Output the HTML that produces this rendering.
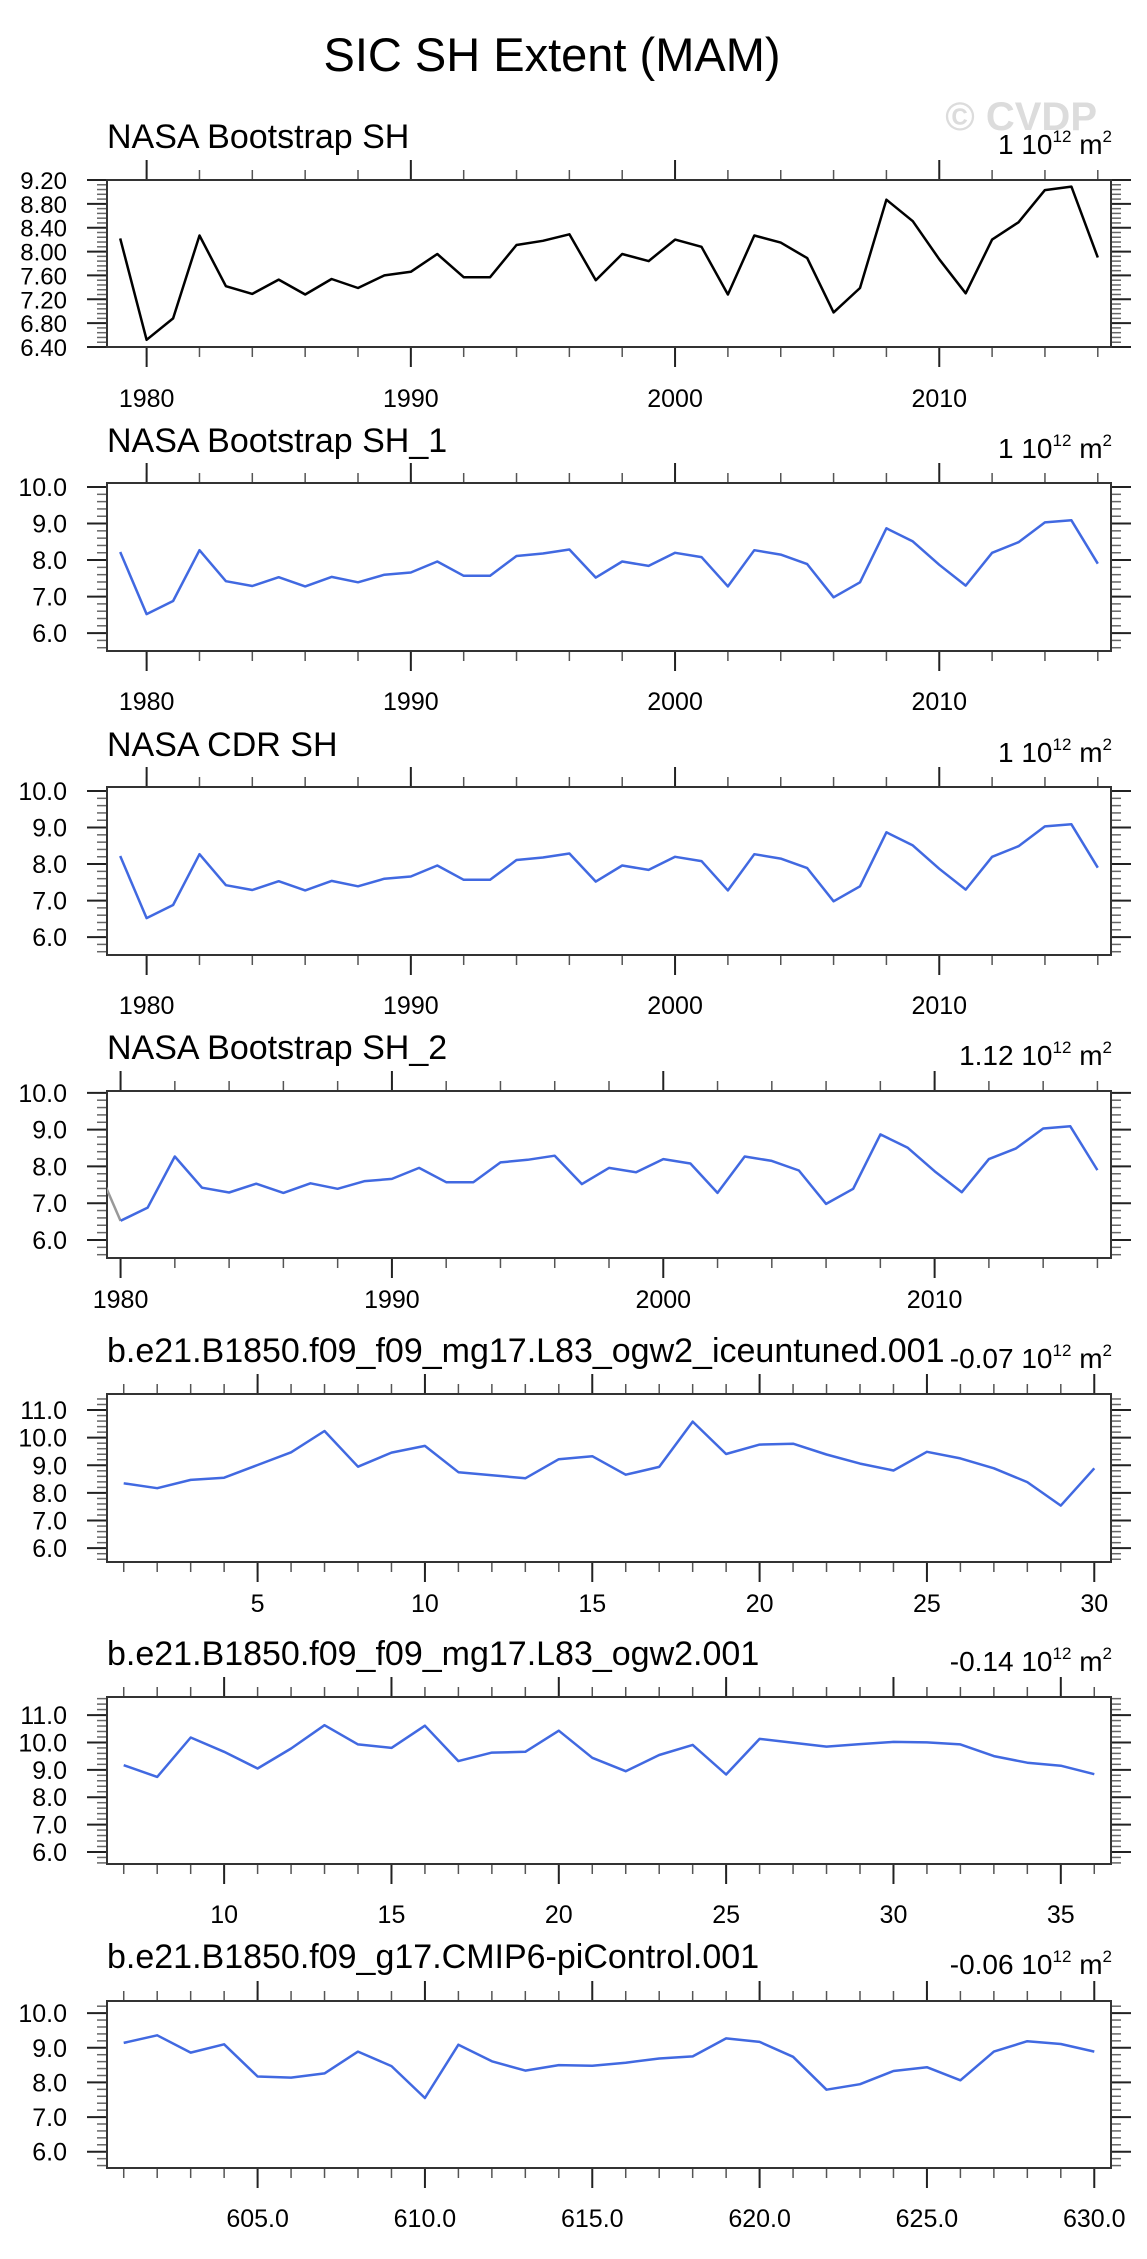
<!DOCTYPE html>
<html><head><meta charset="utf-8"><style>
html,body{margin:0;padding:0;background:#fff;}
svg{display:block;font-family:"Liberation Sans",Arial,sans-serif;}
</style></head><body>
<svg id="fig" width="1147" height="2259" viewBox="0 0 1147 2259" xmlns="http://www.w3.org/2000/svg">
<text x="552" y="71" font-size="47" text-anchor="middle">SIC SH Extent (MAM)</text>
<text x="1097" y="130" font-size="40" font-weight="bold" fill="#dcdcdc" text-anchor="end">© CVDP</text>
</svg>
<script>
const obsYears = [1979,1980,1981,1982,1983,1984,1985,1986,1987,1988,1989,1990,1991,1992,1993,1994,1995,1996,1997,1998,1999,2000,2001,2002,2003,2004,2005,2006,2007,2008,2009,2010,2011,2012,2013,2014,2015,2016];
const obsValues = [8.22,6.52,6.88,8.27,7.42,7.29,7.53,7.28,7.54,7.39,7.60,7.66,7.96,7.57,7.57,8.11,8.18,8.29,7.52,7.96,7.84,8.20,8.08,7.28,8.27,8.15,7.89,6.98,7.39,8.87,8.51,7.87,7.30,8.20,8.49,9.03,9.09,7.90];
const iceYears = [1,2,3,4,5,6,7,8,9,10,11,12,13,14,15,16,17,18,19,20,21,22,23,24,25,26,27,28,29,30];
const iceValues = [8.35,8.17,8.47,8.55,9.01,9.47,10.24,8.95,9.46,9.70,8.75,8.64,8.53,9.22,9.33,8.66,8.94,10.58,9.41,9.75,9.78,9.39,9.06,8.81,9.49,9.25,8.89,8.39,7.54,8.89];
const ogwYears = [7,8,9,10,11,12,13,14,15,16,17,18,19,20,21,22,23,24,25,26,27,28,29,30,31,32,33,34,35,36];
const ogwValues = [9.17,8.74,10.18,9.66,9.05,9.78,10.63,9.93,9.80,10.61,9.32,9.63,9.66,10.43,9.44,8.95,9.54,9.91,8.83,10.13,9.99,9.85,9.94,10.02,10.00,9.93,9.50,9.26,9.15,8.84];
const piYears = [601,602,603,604,605,606,607,608,609,610,611,612,613,614,615,616,617,618,619,620,621,622,623,624,625,626,627,628,629,630];
const piValues = [9.14,9.36,8.86,9.10,8.17,8.14,8.26,8.89,8.47,7.55,9.09,8.61,8.34,8.50,8.48,8.57,8.69,8.75,9.27,9.17,8.74,7.79,7.95,8.33,8.44,8.06,8.89,9.19,9.11,8.89];
const panelTitles = ["NASA Bootstrap SH","NASA Bootstrap SH_1","NASA CDR SH","NASA Bootstrap SH_2","b.e21.B1850.f09_f09_mg17.L83_ogw2_iceuntuned.001","b.e21.B1850.f09_f09_mg17.L83_ogw2.001","b.e21.B1850.f09_g17.CMIP6-piControl.001"];
const trendLabels = ["1","1","1","1.12","-0.07","-0.14","-0.06"];

const NS="http://www.w3.org/2000/svg";
const svg=document.getElementById('fig');
function mk(tag,attrs,parent){const e=document.createElementNS(NS,tag);for(const k in attrs)e.setAttribute(k,attrs[k]);(parent||svg).appendChild(e);return e;}

const L=107,R=1111;
const panels=[
 {top:180,bot:347,tb:148,xb:407,xmin:1978.5,xmax:2016.5,ymin:6.4,ymax:9.2,ymaj:[6.4,6.8,7.2,7.6,8.0,8.4,8.8,9.2],ydec:2,ystep:0.08,xmaj:[1980,1990,2000,2010],xminor:2,xmin0:1980,xfmt:0,xs:obsYears,ys:obsValues,col:"#000",yfs:24},
 {top:483,bot:651,tb:452,xb:710,xmin:1978.5,xmax:2016.5,ymin:5.51,ymax:10.11,ymaj:[6,7,8,9,10],ydec:1,ystep:0.2,xmaj:[1980,1990,2000,2010],xminor:2,xmin0:1980,xfmt:0,xs:obsYears,ys:obsValues,col:"#4169e1",yfs:25},
 {top:787,bot:955,tb:756,xb:1014,xmin:1978.5,xmax:2016.5,ymin:5.51,ymax:10.11,ymaj:[6,7,8,9,10],ydec:1,ystep:0.2,xmaj:[1980,1990,2000,2010],xminor:2,xmin0:1980,xfmt:0,xs:obsYears,ys:obsValues,col:"#4169e1",yfs:25},
 {top:1091,bot:1258,tb:1059,xb:1308,xmin:1979.5,xmax:2016.5,ymin:5.51,ymax:10.05,ymaj:[6,7,8,9,10],ydec:1,ystep:0.2,xmaj:[1980,1990,2000,2010],xminor:2,xmin0:1980,xfmt:0,xs:obsYears,ys:obsValues,col:"#4169e1",grey:true,yfs:25},
 {top:1394,bot:1562,tb:1362,xb:1612,xmin:0.5,xmax:30.5,ymin:5.5,ymax:11.58,ymaj:[6,7,8,9,10,11],ydec:1,ystep:0.2,xmaj:[5,10,15,20,25,30],xminor:1,xmin0:1,xfmt:0,xs:iceYears,ys:iceValues,col:"#4169e1",yfs:25},
 {top:1697,bot:1864,tb:1665,xb:1923,xmin:6.5,xmax:36.5,ymin:5.56,ymax:11.66,ymaj:[6,7,8,9,10,11],ydec:1,ystep:0.2,xmaj:[10,15,20,25,30,35],xminor:1,xmin0:7,xfmt:0,xs:ogwYears,ys:ogwValues,col:"#4169e1",yfs:25},
 {top:2001,bot:2168,tb:1968,xb:2227,xmin:600.5,xmax:630.5,ymin:5.53,ymax:10.35,ymaj:[6,7,8,9,10],ydec:1,ystep:0.2,xmaj:[605,610,615,620,625,630],xminor:1,xmin0:601,xfmt:1,xs:piYears,ys:piValues,col:"#4169e1",yfs:25}
];

panels.forEach((p,i)=>{
  const g=mk('g',{});
  
  
  const X=v=>L+(v-p.xmin)/(p.xmax-p.xmin)*(R-L);
  const Y=v=>p.bot-(v-p.ymin)/(p.ymax-p.ymin)*(p.bot-p.top);
  const t=mk('text',{x:L,y:p.tb,'font-size':34},g); t.textContent=panelTitles[i];
  
  
  const u=mk('text',{x:R+1,y:p.tb+6,'font-size':28,'text-anchor':'end'},g);
  
  
  const s1=mk('tspan',{},u); s1.textContent=trendLabels[i]+' 10';
  const s2=mk('tspan',{'font-size':17,dy:-12},u); s2.textContent='12';
  const s3=mk('tspan',{dy:12},u); s3.textContent=' m';
  const s4=mk('tspan',{'font-size':17,dy:-12},u); s4.textContent='2';
  // y ticks
  for(let v=Math.ceil(p.ymin/p.ystep-1e-6)*p.ystep; v<=p.ymax+1e-6; v+=p.ystep){
    const y=Y(v);
    mk('line',{x1:L-10,x2:L,y1:y,y2:y,stroke:'#666','stroke-width':1.5},g);
    mk('line',{x1:R,x2:R+10,y1:y,y2:y,stroke:'#666','stroke-width':1.5},g);
  }
  p.ymaj.forEach(v=>{
    const y=Y(v);
    mk('line',{x1:L-20,x2:L,y1:y,y2:y,stroke:'#222','stroke-width':2},g);
    mk('line',{x1:R,x2:R+20,y1:y,y2:y,stroke:'#222','stroke-width':2},g);
    const tl=mk('text',{x:67,y:y+9,'font-size':p.yfs,'text-anchor':'end'},g);
    
    
    tl.textContent=v.toFixed(p.ydec);
  });
  // x ticks
  for(let v=p.xmin0; v<=p.xmax; v+=p.xminor){
    const x=X(v);
    mk('line',{x1:x,x2:x,y1:p.top-10,y2:p.top,stroke:'#555','stroke-width':1.5},g);
    mk('line',{x1:x,x2:x,y1:p.bot,y2:p.bot+10,stroke:'#555','stroke-width':1.5},g);
  }
  p.xmaj.forEach(v=>{
    const x=X(v);
    mk('line',{x1:x,x2:x,y1:p.top-20,y2:p.top,stroke:'#222','stroke-width':2},g);
    mk('line',{x1:x,x2:x,y1:p.bot,y2:p.bot+20,stroke:'#222','stroke-width':2},g);
    const tl=mk('text',{x:x,y:p.xb,'font-size':25,'text-anchor':'middle'},g);
    
    
    tl.textContent=p.xfmt?v.toFixed(1):String(v);
  });
  // frame
  const fr=mk('rect',{x:L,y:p.top,width:R-L,height:p.bot-p.top,fill:'none',stroke:'#333','stroke-width':2},g);
  
  
  // clip
  const cp=mk('clipPath',{id:'clip'+i},g);
  mk('rect',{x:L,y:p.top,width:R-L,height:p.bot-p.top},cp);
  let d='';
  p.xs.forEach((xv,k)=>{d+=(k?'L':'M')+X(xv).toFixed(1)+','+Y(p.ys[k]).toFixed(1);});
  if(p.grey){
    const gl=mk('path',{d:'M'+X(p.xs[0])+','+Y(p.ys[0])+'L'+X(p.xs[1])+','+Y(p.ys[1]),stroke:'#999',fill:'none','stroke-width':2.5,'clip-path':'url(#clip'+i+')'},g);
    
    
    d='';
    p.xs.slice(1).forEach((xv,k)=>{d+=(k?'L':'M')+X(xv).toFixed(1)+','+Y(p.ys[k+1]).toFixed(1);});
  }
  const ln=mk('path',{d:d,stroke:p.col,fill:'none','stroke-width':2.5,'stroke-linejoin':'round','clip-path':'url(#clip'+i+')'},g);
  
  
});
</script>
</body></html>
